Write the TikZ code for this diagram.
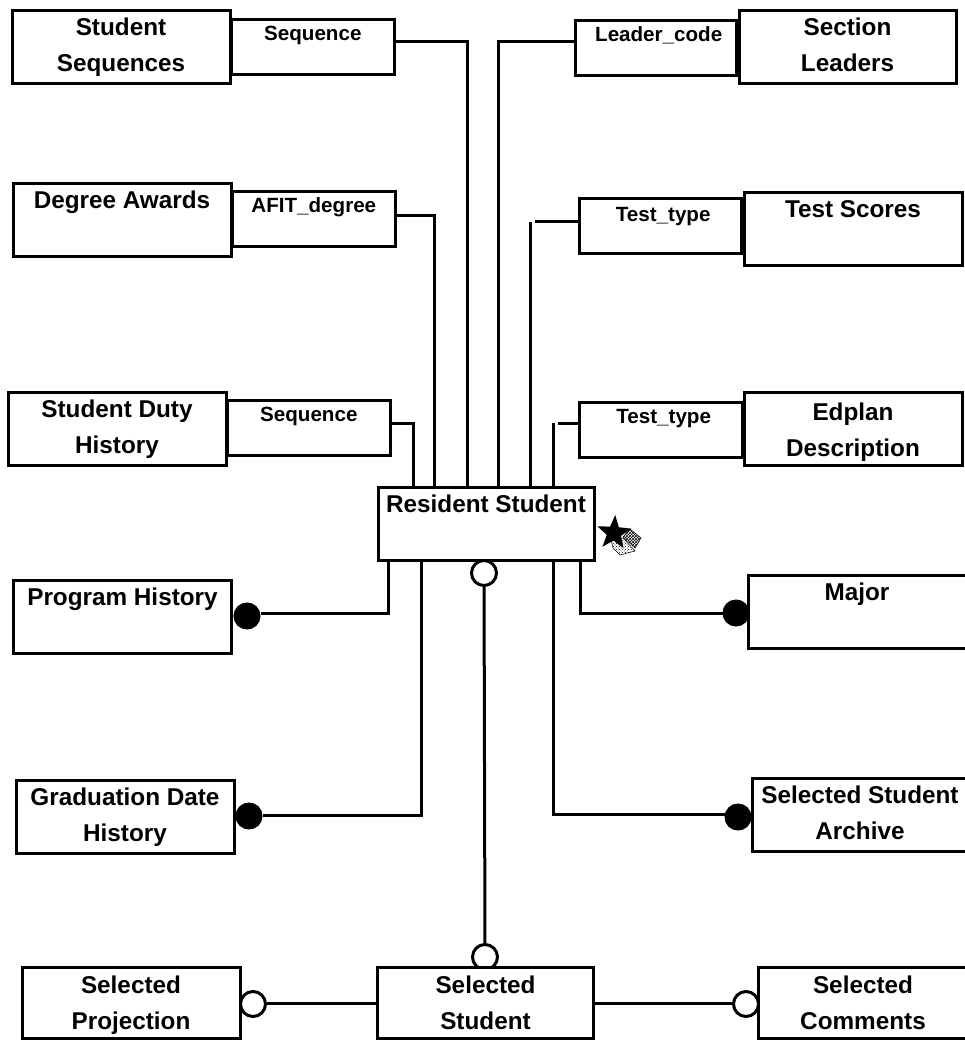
\documentclass[tikz,border=0pt]{standalone}
\usepackage{fontspec}
\setmainfont{Liberation Sans}
\usepackage{tikz}
\usetikzlibrary{
  positioning,
  shapes.geometric,
  patterns
}

\tikzset{
  entity/.style={draw,line width=3pt,rectangle,fill=white,inner sep=0pt,minimum width=218pt,minimum height=73pt,
    align=center,font=\bfseries\fontsize{24.3}{36}\selectfont,text height=19pt,text depth=42pt},
  twoline/.style={entity,text height=55pt,text depth=6pt},
  lowbox/.style={twoline,minimum height=71pt,text depth=2pt},
  keybox/.style={draw,line width=2.6pt,rectangle,inner sep=0pt,minimum width=163pt,minimum height=55pt,
    font=\bfseries\fontsize{20.6}{24}\selectfont,text height=17pt,text depth=29pt},
  rightkey/.style={keybox,execute at begin node=\hspace*{5pt}},
  link/.style={line width=3pt},
  full/.style={circle,fill=black,draw,line width=1pt,inner sep=0pt,minimum size=26pt},
  empty/.style={circle,fill=white,draw,line width=3pt,inner sep=0pt,minimum size=25pt}
}

\begin{document}
\begin{tikzpicture}[x=1pt,y=-1pt]
    \useasboundingbox (0,0) rectangle (965,1040);

    % left column
    \node[twoline] (stuseq) at (121,47.5) {Student\\Sequences};
    \node[keybox,anchor=north west] (stuseqkey) at (230,18) {Sequence};
    \node[entity] (degree) at (122,220) {Degree Awards};
    \node[keybox,anchor=north west] (degreekey) at (231,190) {AFIT\_degree};
    \node[twoline] (duty) at (117,428.5) {Student Duty\\History};
    \node[keybox,anchor=north west] (dutykey) at (226,399) {Sequence};
    \node[entity] (program) at (122.5,616.5) {Program History};
    \node[twoline] (gradhist) at (125,817) {Graduation Date\\History};

    % right column
    \node[twoline,minimum width=217pt] (leaders) at (847.5,47.5) {Section\\Leaders};
    \node[rightkey,anchor=north east,minimum width=161pt] (leaderkey) at (738,19) {Leader\_code};
    \node[entity] (scores) at (853,229.5) {Test Scores};
    \node[rightkey,anchor=north east,minimum width=162pt,text height=19pt,text depth=27pt] (scoreskey) at (743,197) {Test\_type};
    \node[twoline,text height=58pt,text depth=3pt] (edplan) at (853,428.5) {Edplan\\Description};
    \node[rightkey,anchor=north east] (edplankey) at (744,401) {Test\_type};
    \node[entity] (major) at (857,611.5) {Major};
    \node[twoline,minimum width=216pt] (archive) at (860,814.5) {Selected Student\\Archive};

    % middle
    \node[entity,minimum width=216pt] (resident) at (486,524) {Resident Student};

    % ends of the lines on the resident box
    \coordinate (top1) at (413,488);
    \coordinate (top2) at (434,488);
    \coordinate (top3) at (467,488);
    \coordinate (top4) at (498,488);
    \coordinate (top5) at (530,488);
    \coordinate (top6) at (553,488);
    \coordinate (low1) at (388,560);
    \coordinate (low2) at (421,560);
    \coordinate (low3) at (553,560);
    \coordinate (low4) at (580,560);
    \coordinate (gap5) at (535,222);
    \coordinate (gap6) at (558,423);

    \draw[link] (stuseqkey.east |- 0,42) -| (top3);
    \draw[link] (degreekey.east |- 0,216) -| (top2);
    \draw[link] (dutykey.east |- 0,423) -| (top1);
    \draw[link] (leaderkey.west |- 0,42) -| (top4);
    \draw[link] (scoreskey.west |- gap5) -- (gap5);
    \draw[link] (top5) -- (top5 |- gap5);
    \draw[link] (edplankey.west |- gap6) -- (gap6);
    \draw[link] (top6) -- (top6 |- gap6);

    \node[full] (dotprogram) at (247,616) {};
    \node[full] (dotgrad) at (249,816) {};
    \node[full] (dotmajor) at (736,613) {};
    \node[full] (dotarchive) at (738,817) {};
    \draw[link] (low1) |- (dotprogram.east |- 0,613);
    \draw[link] (low2) |- (dotgrad.east |- 0,815);
    \draw[link] (low4) |- (dotmajor);
    \draw[link] (low3) |- (dotarchive.west |- 0,814);

    \node[empty] (ringtop) at (484,573) {};
    \node[empty] (ringlow) at (485,957) {};
    \draw[link] (ringtop) -- (ringlow);
    \node[empty] (ringproj) at (253,1004) {};
    \node[empty] (ringcomm) at (746,1004) {};

    \node[lowbox] (projection) at (131,1002.5) {Selected\\Projection};
    \node[lowbox,minimum width=216pt] (selstudent) at (485.5,1002.5) {Selected\\Student};
    \node[lowbox,minimum width=210pt] (comments) at (863,1002.5) {Selected\\Comments};
    \draw[link] (ringproj.east |- 0,1003) -- (selstudent.west |- 0,1003);
    \draw[link] (selstudent.east |- 0,1003) -- (ringcomm.west |- 0,1003);

    % the mark beside the resident box
    \draw[line width=0.5pt,pattern=crosshatch] (630,529) -- (641,538) -- (635,548) -- (623,537) -- cycle;
    \draw[line width=0.5pt,pattern=crosshatch dots] (611,540) -- (623,538) -- (635,551) -- (620,555) -- (613,548) -- cycle;
    \node[star,star points=5,star point ratio=2.4,fill=black,inner sep=0pt,minimum size=36pt,shape border rotate=-4] (mark) at (614,533) {};
\end{tikzpicture}
\end{document}
